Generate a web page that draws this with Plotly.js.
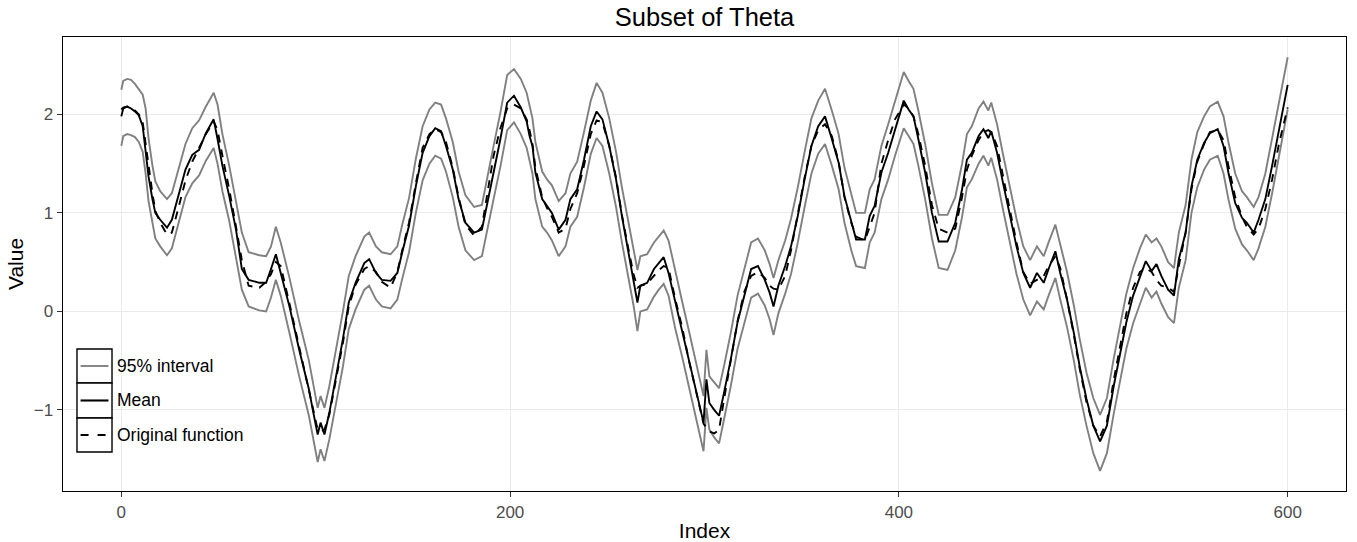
<!DOCTYPE html>
<html>
<head>
<meta charset="utf-8">
<script src="https://cdn.plot.ly/plotly-3.0.1.min.js"></script>
<style>html,body{margin:0;padding:0;background:#fff;}#chart{width:1357px;height:542px;}</style>
</head>
<body>
<div id="chart"></div>
<script>
var idx = [0,1,3,5,7,9,11,12.5,14,16,17.5,20,23.5,26,29.5,33,36.5,40,43.5,47.5,49.5,52,55.5,59,62,65.5,71,74.5,77,79.5,82,86.5,91.5,96.5,98.5,101,102.5,104.5,107,110.5,114,117,120.5,125,127.5,131,134,138.5,142,144.5,148,151.5,155,158.5,161.5,164.5,167,170.5,173.5,177,181.5,185.5,188.5,191.5,195,198.5,202,205.5,208.5,210,211.5,213,216.5,219,221.5,225,228.5,231,234.5,238,241.5,244.5,247.5,251,254.5,257.5,261,263.5,265.5,267,270.5,274,276.5,279,281.5,285,288.5,292,295.5,299.5,301,302.5,305,307.5,310,313.5,317,320.5,324,327.5,331,333.5,335.5,338,341.5,344.5,348,351.5,355,358.5,362,365.5,369,372,375.5,378,382.5,385,387.5,391,394.5,398,402.5,405,407.5,410,413.5,417,420.5,425,429,432.5,435,437.5,441,443.5,446,447.5,450.5,453.5,457,460.5,464,467.5,471,474.5,477,480.5,483,486.5,490,493,496.5,500,503.5,507,510.5,514,517,520.5,524,527,530,532.5,535,538.5,541.5,544,547.5,550.5,553.5,557,560,564,567,569.5,573,576.5,579,582.5,585,588.5,592,595.5,600];

var meanVals = [1.98,2.06,2.08,2.06,2.03,1.99,1.88,1.64,1.37,1.14,1.0,0.93,0.85,0.93,1.2,1.44,1.59,1.64,1.81,1.95,1.75,1.48,1.17,0.83,0.43,0.32,0.29,0.29,0.43,0.58,0.39,0.05,-0.39,-0.79,-1.0,-1.25,-1.13,-1.25,-1.03,-0.66,-0.28,0.09,0.29,0.49,0.53,0.39,0.32,0.31,0.39,0.60,0.87,1.27,1.61,1.78,1.86,1.83,1.68,1.44,1.14,0.90,0.80,0.83,1.14,1.41,1.75,2.12,2.19,2.07,1.93,1.78,1.68,1.41,1.14,1.07,1.0,0.83,0.93,1.14,1.24,1.54,1.88,2.03,1.95,1.68,1.34,0.97,0.60,0.32,0.09,0.26,0.29,0.43,0.49,0.55,0.39,0.09,-0.18,-0.49,-0.79,-1.13,-0.69,-0.93,-1.0,-1.06,-0.83,-0.49,-0.11,0.16,0.43,0.46,0.32,0.19,0.05,0.26,0.46,0.66,0.97,1.34,1.68,1.88,1.98,1.75,1.51,1.17,0.90,0.73,0.73,0.97,1.07,1.41,1.61,1.85,2.14,2.05,1.98,1.75,1.41,1.0,0.71,0.71,0.90,1.24,1.54,1.61,1.78,1.85,1.76,1.83,1.61,1.31,1.0,0.66,0.39,0.24,0.39,0.29,0.43,0.61,0.39,0.12,-0.22,-0.56,-0.89,-1.16,-1.32,-1.16,-0.76,-0.42,-0.11,0.16,0.36,0.51,0.41,0.48,0.36,0.22,0.16,0.53,0.80,1.27,1.54,1.71,1.81,1.85,1.68,1.41,1.10,0.95,0.90,0.80,0.93,1.14,1.48,1.85,2.30];

var upperVals = [2.25,2.34,2.36,2.35,2.31,2.26,2.20,2.06,1.76,1.48,1.32,1.22,1.14,1.20,1.45,1.70,1.86,1.94,2.08,2.22,2.10,1.80,1.48,1.12,0.80,0.60,0.57,0.56,0.66,0.86,0.70,0.34,-0.10,-0.50,-0.72,-0.98,-0.86,-0.98,-0.76,-0.40,0.00,0.36,0.56,0.76,0.80,0.66,0.60,0.58,0.66,0.88,1.15,1.55,1.88,2.05,2.12,2.10,1.96,1.72,1.42,1.18,1.06,1.08,1.40,1.68,2.02,2.40,2.46,2.36,2.22,2.08,1.96,1.72,1.42,1.34,1.28,1.12,1.20,1.40,1.52,1.82,2.14,2.32,2.22,1.96,1.62,1.26,0.90,0.64,0.42,0.56,0.58,0.70,0.76,0.82,0.72,0.40,0.10,-0.20,-0.52,-0.86,-0.39,-0.66,-0.72,-0.78,-0.56,-0.22,0.16,0.44,0.70,0.74,0.62,0.48,0.34,0.52,0.72,0.94,1.26,1.62,1.96,2.14,2.26,2.04,1.80,1.46,1.18,1.00,1.00,1.24,1.34,1.68,1.90,2.14,2.43,2.34,2.26,2.04,1.70,1.30,0.98,0.98,1.16,1.50,1.80,1.88,2.06,2.13,2.04,2.12,1.90,1.60,1.28,0.94,0.66,0.52,0.66,0.56,0.70,0.88,0.68,0.40,0.06,-0.28,-0.62,-0.88,-1.05,-0.88,-0.48,-0.14,0.18,0.44,0.64,0.78,0.70,0.74,0.66,0.50,0.44,0.80,1.08,1.54,1.82,1.98,2.08,2.13,1.98,1.72,1.40,1.22,1.16,1.06,1.16,1.40,1.76,2.14,2.58];

var lowerVals = [1.68,1.78,1.80,1.79,1.77,1.72,1.62,1.40,1.12,0.88,0.74,0.66,0.57,0.64,0.90,1.16,1.30,1.38,1.53,1.66,1.50,1.22,0.92,0.56,0.22,0.05,0.01,0.00,0.14,0.32,0.16,-0.22,-0.66,-1.06,-1.28,-1.53,-1.40,-1.52,-1.30,-0.94,-0.56,-0.18,0.02,0.22,0.26,0.12,0.05,0.03,0.12,0.33,0.60,1.00,1.33,1.50,1.58,1.55,1.42,1.16,0.86,0.62,0.52,0.56,0.86,1.14,1.47,1.84,1.92,1.80,1.66,1.52,1.40,1.14,0.86,0.80,0.72,0.56,0.66,0.86,0.96,1.26,1.60,1.76,1.68,1.40,1.06,0.70,0.32,0.06,-0.20,0.00,0.02,0.15,0.22,0.28,0.16,-0.18,-0.46,-0.76,-1.06,-1.42,-0.98,-1.20,-1.28,-1.34,-1.10,-0.76,-0.38,-0.12,0.14,0.18,0.06,-0.08,-0.24,-0.02,0.18,0.38,0.70,1.06,1.40,1.60,1.70,1.48,1.24,0.90,0.62,0.46,0.44,0.70,0.80,1.14,1.34,1.58,1.86,1.78,1.70,1.48,1.14,0.74,0.44,0.42,0.62,0.96,1.26,1.34,1.50,1.58,1.48,1.56,1.34,1.04,0.72,0.38,0.12,-0.04,0.10,0.02,0.16,0.34,0.12,-0.16,-0.50,-0.84,-1.16,-1.44,-1.62,-1.44,-1.04,-0.70,-0.38,-0.12,0.08,0.24,0.14,0.20,0.08,-0.06,-0.12,0.24,0.52,1.00,1.26,1.44,1.54,1.58,1.40,1.14,0.84,0.68,0.62,0.52,0.64,0.86,1.20,1.58,2.05];

var origVals = [2.05,2.07,2.08,2.07,2.04,2.00,1.92,1.70,1.45,1.20,1.02,0.90,0.78,0.80,1.06,1.33,1.52,1.66,1.80,1.93,1.84,1.58,1.24,0.86,0.52,0.26,0.24,0.30,0.38,0.50,0.46,0.08,-0.36,-0.80,-1.00,-1.20,-1.22,-1.20,-1.05,-0.70,-0.32,0.05,0.27,0.43,0.46,0.40,0.30,0.24,0.40,0.62,0.90,1.30,1.66,1.80,1.85,1.82,1.72,1.46,1.16,0.88,0.77,0.86,1.22,1.58,1.86,2.06,2.10,2.06,1.95,1.84,1.70,1.46,1.16,1.05,0.96,0.80,0.84,1.04,1.20,1.48,1.80,1.94,1.92,1.68,1.36,0.98,0.62,0.38,0.24,0.26,0.28,0.36,0.42,0.46,0.44,0.12,-0.16,-0.50,-0.80,-1.14,-1.18,-1.22,-1.24,-1.20,-0.90,-0.50,-0.10,0.20,0.36,0.40,0.34,0.26,0.23,0.22,0.36,0.62,0.98,1.36,1.68,1.84,1.90,1.78,1.52,1.16,0.90,0.76,0.72,0.86,1.00,1.50,1.74,1.95,2.10,2.06,1.98,1.80,1.48,1.08,0.84,0.80,0.84,1.16,1.44,1.58,1.74,1.82,1.84,1.82,1.68,1.38,1.04,0.70,0.40,0.28,0.32,0.36,0.46,0.56,0.44,0.12,-0.24,-0.58,-0.92,-1.16,-1.27,-1.12,-0.70,-0.32,-0.02,0.24,0.40,0.44,0.40,0.32,0.26,0.24,0.20,0.46,0.80,1.24,1.52,1.70,1.82,1.84,1.74,1.48,1.16,0.96,0.86,0.78,0.84,1.04,1.34,1.70,2.07];

var seriesNames = ["95% interval", "Mean", "Original function"];
var titleText = "Subset of Theta";
var xLabel = "Index";
var yLabel = "Value";
var xTicks = [0, 200, 400, 600];
var yTicks = [-1, 0, 1, 2];

var gray = "#808080";
var font = "Liberation Sans, Arial, Helvetica, sans-serif";
var lw = 1.9;

var traces = [
  {x: idx, y: upperVals, mode: "lines", line: {color: gray, width: lw}, name: seriesNames[0], showlegend: false},
  {x: idx, y: lowerVals, mode: "lines", line: {color: gray, width: lw}, name: seriesNames[0], showlegend: false},
  {x: idx, y: origVals, mode: "lines", line: {color: "#000", width: lw, dash: "8px,7px"}, name: seriesNames[2], showlegend: false},
  {x: idx, y: meanVals, mode: "lines", line: {color: "#000", width: lw}, name: seriesNames[1], showlegend: false}
];

// Manual ggplot-style legend (paper coordinates)
var shapes = [];
var annotations = [];
var keyX0 = 0.0109, keyX1 = 0.0382;
var keyTops = [0.3128, 0.2379, 0.1608];
var keyBots = [0.2379, 0.1608, 0.0859];
var keyStyles = [
  {color: gray, width: lw},
  {color: "#000", width: lw + 0.2},
  {color: "#000", width: lw + 0.2, dash: "8px,9px"}
];
for (var k = 0; k < 3; k++) {
  shapes.push({type: "rect", xref: "paper", yref: "paper", x0: keyX0, x1: keyX1, y0: keyBots[k], y1: keyTops[k], line: {color: "#000", width: 1.4}, fillcolor: "rgba(255,255,255,1)", layer: "above"});
  var ym = (keyTops[k] + keyBots[k]) / 2;
  shapes.push({type: "line", xref: "paper", yref: "paper", x0: keyX0 + 0.0028, x1: keyX1 - 0.0028, y0: ym, y1: ym, line: keyStyles[k], layer: "above"});
  annotations.push({xref: "paper", yref: "paper", x: keyX1 + 0.0025, y: ym, xanchor: "left", yanchor: "middle", text: seriesNames[k], showarrow: false, font: {family: font, size: 17.5, color: "#000"}});
}

var layout = {
  width: 1357, height: 542,
  margin: {l: 63, r: 11, t: 37, b: 51},
  paper_bgcolor: "#fff", plot_bgcolor: "#fff",
  showlegend: false,
  title: {text: titleText, x: 0.5, xref: "paper", y: 1 - 17/542, yref: "container", yanchor: "middle", font: {family: font, size: 25.5, color: "#000"}},
  xaxis: {
    range: [-30, 630], tickvals: xTicks, ticktext: xTicks.map(String),
    showgrid: true, gridcolor: "#ebebeb", gridwidth: 1.2, zeroline: false,
    ticks: "outside", ticklen: 5, tickcolor: "#333", tickwidth: 1.1,
    tickfont: {family: font, size: 17, color: "#4d4d4d"},
    showline: true, mirror: true, linecolor: "#000", linewidth: 1.4,
    title: {text: xLabel, font: {family: font, size: 21, color: "#000"}, standoff: 4}
  },
  yaxis: {
    range: [-1.824, 2.786], tickvals: yTicks,
    showgrid: true, gridcolor: "#ebebeb", gridwidth: 1.2, zeroline: false,
    ticks: "outside", ticklen: 5, tickcolor: "#333", tickwidth: 1.1,
    tickfont: {family: font, size: 17, color: "#4d4d4d"},
    showline: true, mirror: true, linecolor: "#000", linewidth: 1.4,
    title: {text: yLabel, font: {family: font, size: 21, color: "#000"}, standoff: 4}
  },
  shapes: shapes,
  annotations: annotations
};

Plotly.newPlot("chart", traces, layout, {displayModeBar: false, staticPlot: true});
</script>
</body>
</html>
